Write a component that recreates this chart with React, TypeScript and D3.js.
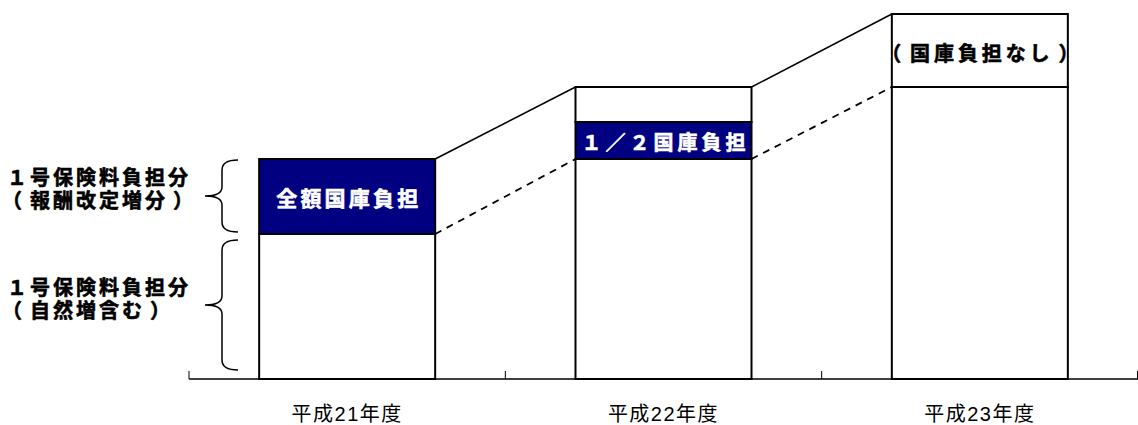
import React from 'react';
import * as d3 from 'd3';

const categories = ['平成21年度', '平成22年度', '平成23年度'];
const baseValues = [145, 220, 292];
const subsidyValues = [75, 37, 0];
const noSubsidyValues = [0, 35, 73];
const barLabels = ['全額国庫負担', '１／２国庫負担', '（国庫負担なし）'];
const barLabelSegments = ['subsidy', 'subsidy', 'other'];
const sideLabels = [
  ['１号保険料負担分', '（報酬改定増分）'],
  ['１号保険料負担分', '（自然増含む）'],
];

const W = 1138;
const H = 425;
const FONT = '"Liberation Sans", "Noto Sans CJK JP", sans-serif';

function charOffset(ch: string) {
  if (ch === '（') return -5;
  if (ch === '）') return 5;
  return 0;
}

function SpacedText(props: {
  text: string;
  cx?: number;
  x0?: number;
  y: number;
  pitch: number;
  size: number;
  fill: string;
}) {
  const chars = Array.from(props.text);
  const n = chars.length;
  const start = props.x0 !== undefined ? props.x0 : (props.cx as number) - (props.pitch * (n - 1)) / 2;
  const xs = chars.map((ch, k) => (start + k * props.pitch + charOffset(ch)).toFixed(1)).join(' ');
  return (
    <text
      x={xs}
      y={props.y}
      textAnchor="middle"
      dominantBaseline="central"
      fontFamily={FONT}
      fontWeight="bold"
      fontSize={props.size}
      fill={props.fill}
      stroke={props.fill}
      strokeWidth={0.6}
    >
      {props.text}
    </text>
  );
}

export default function App() {
  const data = categories.map((c, i) => ({
    cat: c,
    base: baseValues[i],
    subsidy: subsidyValues[i],
    other: noSubsidyValues[i],
  }));
  const stack = d3.stack<any>().keys(['base', 'subsidy', 'other']);
  const series = stack(data);

  const x = d3
    .scaleBand<string>()
    .domain(categories)
    .range([189, 1138])
    .paddingInner(0.4436)
    .paddingOuter(0.2218);
  const y = d3.scaleLinear().domain([0, 365]).range([379, 14]);
  const bw = x.bandwidth();
  const step = x.step();

  const fills: Record<string, string> = { base: '#ffffff', subsidy: '#000080', other: '#ffffff' };

  const ticks = [0, 1, 2, 3].map((i) => Math.min(189 + i * step, 1137.5));

  const totals = data.map((d) => d.base + d.subsidy + d.other);

  const brace = (top: number, bottom: number) => {
    const xr = 238;
    const xm = 222;
    const xt = 205;
    const mid = (top + bottom) / 2;
    const p = d3.path();
    p.moveTo(xr, top);
    p.quadraticCurveTo(xm, top, xm, top + 10);
    p.lineTo(xm, mid - 9);
    p.quadraticCurveTo(xm, mid, xt, mid);
    p.quadraticCurveTo(xm, mid, xm, mid + 9);
    p.lineTo(xm, bottom - 10);
    p.quadraticCurveTo(xm, bottom, xr, bottom);
    return p.toString();
  };

  const seg1Top = y(baseValues[0] + subsidyValues[0]);
  const seg1Bot = y(baseValues[0]);
  const seg2Top = y(baseValues[0]);
  const seg2Bot = y(0);

  const labelPitch = [24.2, 24, 23.9];
  const labelDy = [2, 2, 3];

  return (
    <svg width={W} height={H} style={{ position: 'absolute', left: 0, top: 0, background: '#fff' }}>
      {/* axis */}
      <line x1={189} x2={1138} y1={y(0)} y2={y(0)} stroke="#000" strokeWidth={1.5} />
      {ticks.map((t, i) => (
        <line key={i} x1={t} x2={t} y1={y(0)} y2={y(0) - 8} stroke="#000" strokeWidth={1} />
      ))}

      {/* connector lines */}
      {data.slice(0, -1).map((d, i) => {
        const x1 = (x(d.cat) as number) + bw;
        const x2 = x(categories[i + 1]) as number;
        return (
          <g key={i}>
            <line x1={x1} x2={x2} y1={y(totals[i])} y2={y(totals[i + 1])} stroke="#000" strokeWidth={1.5} />
            <line
              x1={x1}
              x2={x2}
              y1={y(d.base)}
              y2={y(data[i + 1].base)}
              stroke="#000"
              strokeWidth={1.8}
              strokeDasharray="7,6"
            />
          </g>
        );
      })}

      {/* bars */}
      {series.map((s) =>
        s.map((pt, i) =>
          pt[1] - pt[0] > 0 ? (
            <rect
              key={s.key + i}
              x={x(categories[i])}
              y={y(pt[1])}
              width={bw}
              height={y(pt[0]) - y(pt[1])}
              fill={fills[s.key]}
              stroke="#000"
              strokeWidth={2}
            />
          ) : null
        )
      )}

      {/* bar labels */}
      {barLabels.map((lab, i) => {
        const s = series.find((ss) => ss.key === barLabelSegments[i])!;
        const pt = s[i];
        const cy = (y(pt[0]) + y(pt[1])) / 2 + labelDy[i];
        const cx = (x(categories[i]) as number) + bw / 2;
        return (
          <SpacedText
            key={i}
            text={lab}
            cx={cx}
            y={cy}
            pitch={labelPitch[i]}
            size={i === 0 ? 21 : 20}
            fill={barLabelSegments[i] === 'subsidy' ? '#fff' : '#000'}
          />
        );
      })}

      {/* category labels */}
      {categories.map((c) => (
        <text
          key={c}
          x={(x(c) as number) + bw / 2}
          y={414}
          textAnchor="middle"
          dominantBaseline="central"
          fontFamily={FONT}
          fontSize={20}
          letterSpacing={1.5}
          fill="#000"
        >
          {c}
        </text>
      ))}

      {/* braces */}
      <path d={brace(seg1Top + 1, seg1Bot - 2)} fill="none" stroke="#000" strokeWidth={1.5} />
      <path d={brace(seg2Top + 6, seg2Bot - 9)} fill="none" stroke="#000" strokeWidth={1.5} />

      {/* side labels */}
      {sideLabels.map((lines, k) => {
        const top = k === 0 ? seg1Top : seg2Top;
        const bot = k === 0 ? seg1Bot : seg2Bot;
        const mid = (top + bot) / 2 - 7;
        return lines.map((l, j) => (
          <SpacedText
            key={k + '-' + j}
            text={l}
            x0={17}
            y={mid + (j === 0 ? -11.5 : 11.5)}
            pitch={23}
            size={20}
            fill="#000"
          />
        ));
      })}
    </svg>
  );
}
